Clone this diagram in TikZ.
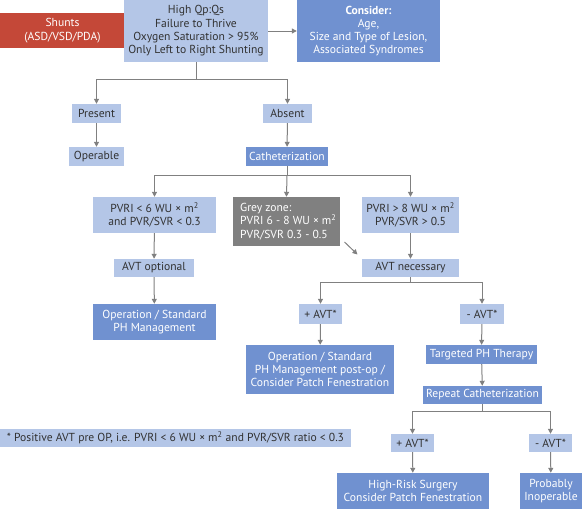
\documentclass[tikz,border=0pt]{standalone}
\usepackage{fontspec}
\setmainfont{PT Sans}
\usetikzlibrary{arrows.meta,calc}
\definecolor{lightb}{RGB}{180,198,231}
\definecolor{medb}{RGB}{112,145,208}
\definecolor{redb}{RGB}{196,72,56}
\definecolor{greyb}{RGB}{128,128,128}
\definecolor{txt}{RGB}{50,50,50}
\definecolor{lin}{RGB}{128,128,128}
\tikzset{
  box/.style={inner sep=0pt, align=center, font=\fontsize{11.6}{13.3}\selectfont},
  lightbox/.style={box, fill=lightb, text=txt},
  medbox/.style={box, fill=medb, text=white},
  redbox/.style={box, fill=redb, text=white},
  greybox/.style={box, fill=greyb, text=white},
  conn/.style={draw=lin, line width=1pt, -{Triangle[length=5pt,width=5pt]}},
  seg/.style={draw=lin, line width=1pt}
}
% place box by corners
\newcommand{\bx}[6]{\node[#1, minimum width={#4-#2}, minimum height={#5-#3}] (#6) at ({(#2+#4)/2},{(#3+#5)/2}) }
\begin{document}
\begin{tikzpicture}[x=1pt,y=-1pt]
\useasboundingbox (0,0) rectangle (582,509);
\bx{redbox}{0}{13}{125}{48}{shunts} {Shunts\\(ASD/VSD/PDA)};
\bx{lightbox}{124}{0}{268}{62}{top} {High Qp:Qs\\Failure to Thrive\\Oxygen Saturation > 95\%\\Only Left to Right Shunting};
\bx{medbox}{297}{0}{440}{62}{consider} {\textbf{Consider:}\\Age,\\Size and Type of Lesion,\\Associated Syndromes};
\bx{lightbox}{72}{104}{121}{123}{present} {Present};
\bx{lightbox}{263}{104}{312}{123}{absent} {Absent};
\bx{lightbox}{69}{147}{124}{166}{operable} {Operable};
\bx{medbox}{246}{147}{328}{166}{cath} {Catheterization};
\bx{lightbox}{93}{197}{216}{233}{pvri6} {PVRI < 6 WU × m\textsuperscript{2}\\and PVR/SVR < 0.3};
\bx{greybox}{233}{197}{340}{246}{grey} {};
\node[box, text=white, align=left, anchor=west] (greytxt) at (240,221.5) {Grey zone:\\PVRI 6 - 8 WU × m\textsuperscript{2}\\PVR/SVR 0.3 - 0.5};
\bx{lightbox}{362}{197}{459}{233}{pvri8} {PVRI > 8 WU × m\textsuperscript{2}\\PVR/SVR > 0.5};
\bx{lightbox}{114}{259}{194}{277}{avtopt} {AVT optional};
\bx{lightbox}{362}{259}{459}{277}{avtnec} {AVT necessary};
\bx{medbox}{93}{304}{216}{340}{opstd} {Operation / Standard\\PH Management};
\bx{lightbox}{299}{304}{342}{324}{plusavt} {+ AVT*};
\bx{lightbox}{460}{304}{504}{324}{minusavt} {- AVT*};
\bx{medbox}{246}{345}{394}{394}{oppost} {Operation / Standard\\PH Management post-op /\\Consider Patch Fenestration};
\bx{medbox}{426}{345}{537}{364}{targeted} {Targeted PH Therapy};
\bx{medbox}{423}{386}{542}{404}{repeat} {Repeat Catheterization};
\bx{lightbox}{391}{434}{434}{452}{plustwo} {+ AVT*};
\bx{lightbox}{529}{434}{572}{452}{minustwo} {- AVT*};
\bx{lightbox}{0}{429}{351}{447}{foot} {* Positive AVT pre OP, i.e. PVRI < 6 WU × m\textsuperscript{2} and PVR/SVR ratio < 0.3};
\bx{medbox}{337}{473}{489}{509}{highrisk} {High-Risk Surgery\\Consider Patch Fenestration};
\bx{medbox}{520}{473}{582}{509}{probably} {Probably\\Inoperable};

% connectors
\draw[conn] (top.east) -- (consider.west);
\coordinate (j1) at ($(top.south)+(0,17)$);
\draw[seg] (top.south) -- (j1);
\draw[conn] (j1) -| (present.north);
\draw[conn] (j1) -| (absent.north);
\draw[conn] (present) -- (operable);
\draw[conn] (absent) -- (cath);
\coordinate (j2) at ($(cath.south)+(0,9)$);
\draw[seg] (cath.south) -- (j2);
\draw[conn] (j2) -| (pvri6.north);
\draw[conn] (j2) -- (grey.north);
\draw[conn] (j2) -| (pvri8.north);
\draw[conn] (pvri6) -- (avtopt);
\draw[conn] (avtopt) -- (opstd);
\draw[conn] (pvri8) -- (avtnec);
\coordinate (d1) at (344.5,242);
\coordinate (d2) at (357.5,254.5);
\draw[conn] (d1) -- (d2);
\coordinate (j3) at ($(avtnec.south)+(0,5)$);
\draw[seg] (avtnec.south) -- (j3);
\draw[conn] (j3) -| (plusavt.north);
\draw[conn] (j3) -| (minusavt.north);
\draw[conn] (plusavt) -- (oppost);
\draw[conn] (minusavt) -- (targeted);
\draw[conn] (targeted) -- (repeat);
\coordinate (j4) at ($(repeat.south)+(0,7)$);
\draw[seg] (repeat.south) -- (j4);
\draw[conn] (j4) -| (plustwo.north);
\draw[conn] (j4) -| (minustwo.north);
\draw[conn] (plustwo) -- (highrisk);
\draw[conn] (minustwo) -- (probably);
\end{tikzpicture}
\end{document}
